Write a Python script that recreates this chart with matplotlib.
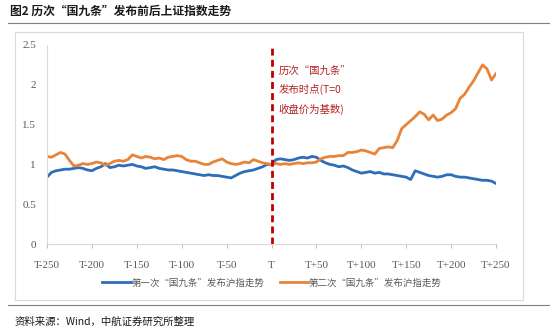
import matplotlib
matplotlib.use('Agg')
import matplotlib.pyplot as plt
from matplotlib.lines import Line2D
from matplotlib.patches import Rectangle

plt.rcParams['font.family'] = ['Liberation Serif', 'Noto Sans CJK SC']

# trading days relative to release date, every 5 days
days = list(range(-250, 251, 5))

first_release = [
    0.84, 0.90, 0.92, 0.93, 0.94, 0.94, 0.95, 0.96, 0.95, 0.93,
    0.92, 0.95, 0.97, 1.01, 0.96, 0.97, 0.99, 0.98, 0.99, 1.00,
    0.98, 0.97, 0.95, 0.96, 0.97, 0.95, 0.94, 0.93, 0.93, 0.92,
    0.91, 0.90, 0.89, 0.88, 0.87, 0.86, 0.87, 0.86, 0.86, 0.85,
    0.84, 0.83, 0.86, 0.89, 0.91, 0.92, 0.93, 0.95, 0.97, 1.00,
    1.00,
    1.06, 1.07, 1.06, 1.05, 1.06, 1.08, 1.09, 1.08, 1.10, 1.09,
    1.05, 1.02, 1.00, 0.99, 0.97, 0.98, 0.96, 0.93, 0.91, 0.89,
    0.90, 0.91, 0.89, 0.90, 0.88, 0.88, 0.87, 0.86, 0.85, 0.84,
    0.81, 0.92, 0.90, 0.88, 0.86, 0.85, 0.84, 0.85, 0.87, 0.87,
    0.85, 0.84, 0.84, 0.83, 0.82, 0.81, 0.80, 0.80, 0.79, 0.76,
]

second_release = [
    1.10, 1.09, 1.12, 1.15, 1.13, 1.05, 0.98, 0.99, 1.01, 1.00,
    1.01, 1.03, 1.02, 0.99, 1.01, 1.04, 1.05, 1.04, 1.06, 1.12,
    1.10, 1.08, 1.10, 1.09, 1.07, 1.08, 1.06, 1.09, 1.10, 1.11,
    1.10, 1.06, 1.04, 1.04, 1.02, 1.00, 1.00, 1.03, 1.05, 1.07,
    1.03, 1.01, 1.00, 1.01, 1.03, 1.02, 1.06, 1.04, 1.02, 1.01,
    1.00,
    1.01, 1.00, 1.01, 1.00, 1.01, 1.02, 1.01, 1.02, 1.02, 1.03,
    1.07, 1.09, 1.10, 1.10, 1.11, 1.11, 1.15, 1.15, 1.16, 1.18,
    1.17, 1.15, 1.13, 1.20, 1.21, 1.22, 1.21, 1.30, 1.45, 1.50,
    1.55, 1.60, 1.66, 1.63, 1.56, 1.62, 1.55, 1.57, 1.62, 1.65,
    1.70, 1.83, 1.88, 1.97, 2.05, 2.15, 2.25, 2.20, 2.06, 2.14,
]

tick_pos = [-250, -200, -150, -100, -50, 0, 50, 100, 150, 200, 250]
tick_labels = ['T-250', 'T-200', 'T-150', 'T-100', 'T-50', 'T',
               'T+50', 'T+100', 'T+150', 'T+200', 'T+250']
y_ticks = [0, 0.5, 1, 1.5, 2, 2.5]
y_labels = ['0', '0.5', '1', '1.5', '2', '2.5']

blue = '#2E6DB8'
orange = '#E8833A'
red = '#C00000'
grey = '#595959'

W, H = 550, 331
fig = plt.figure(figsize=(5.5, 3.31), dpi=100)

def fx(px):
    return px / W

def fy(py):
    return 1 - py / H

# chart frame and rules
fig.add_artist(Rectangle((fx(15), fy(300)), fx(508), (300 - 32) / H,
                         transform=fig.transFigure, fill=False,
                         edgecolor='#D9D9D9', linewidth=0.8))
fig.add_artist(Line2D([fx(8), fx(550)], [fy(23), fy(23)],
                      transform=fig.transFigure, color='#7F7F7F', linewidth=0.8))
fig.add_artist(Line2D([fx(8), fx(550)], [fy(305), fy(305)],
                      transform=fig.transFigure, color='#7F7F7F', linewidth=0.8))

fig.text(fx(10), fy(11), '图2 历次“国九条”发布前后上证指数走势',
         fontsize=8.5, fontweight='bold', va='center', ha='left',
         family=['Noto Sans CJK SC'], color='#1a1a1a')
fig.text(fx(15), fy(322), '资料来源：Wind，中航证券研究所整理',
         fontsize=7.5, va='center', ha='left',
         family=['Noto Sans CJK SC'], color='#1a1a1a')

ax = fig.add_axes([fx(47), fy(244), fx(449), 199 / H])
ax.plot(days, first_release, color=blue, linewidth=2,
        label='第一次“国九条”发布沪指走势')
ax.plot(days, second_release, color=orange, linewidth=2,
        label='第二次“国九条”发布沪指走势')
ax.plot([0, 0], [0, 2.5], color=red, linewidth=2, linestyle=(0, (2.5, 1.5)))

ax.text(8, 2.24, '历次“国九条”\n发布时点(T=0\n收盘价为基数)', color='#B22222',
        fontsize=7.5, va='top', ha='left', linespacing=1.9,
        family=['Noto Sans CJK SC'])

ax.set_xlim(-250, 250)
ax.set_ylim(0, 2.5)
ax.set_xticks(tick_pos)
ax.set_xticklabels(tick_labels)
ax.set_yticks(y_ticks)
ax.set_yticklabels(y_labels)
ax.tick_params(axis='both', labelsize=8, colors=grey)
ax.tick_params(axis='x', length=3, color='#BFBFBF', pad=9)
ax.tick_params(axis='y', length=0, pad=8)
for s in ['top', 'right']:
    ax.spines[s].set_visible(False)
for s in ['left', 'bottom']:
    ax.spines[s].set_color('#D9D9D9')

leg = fig.legend(loc='center', bbox_to_anchor=(fx(272), fy(283)), ncol=2,
                 frameon=False, handlelength=3.0,
                 columnspacing=1.6, handletextpad=0.1,
                 prop={'family': ['Noto Sans CJK SC'], 'size': 6.8})
for t in leg.get_texts():
    t.set_color(grey)

fig.savefig('out.png', dpi=100)
